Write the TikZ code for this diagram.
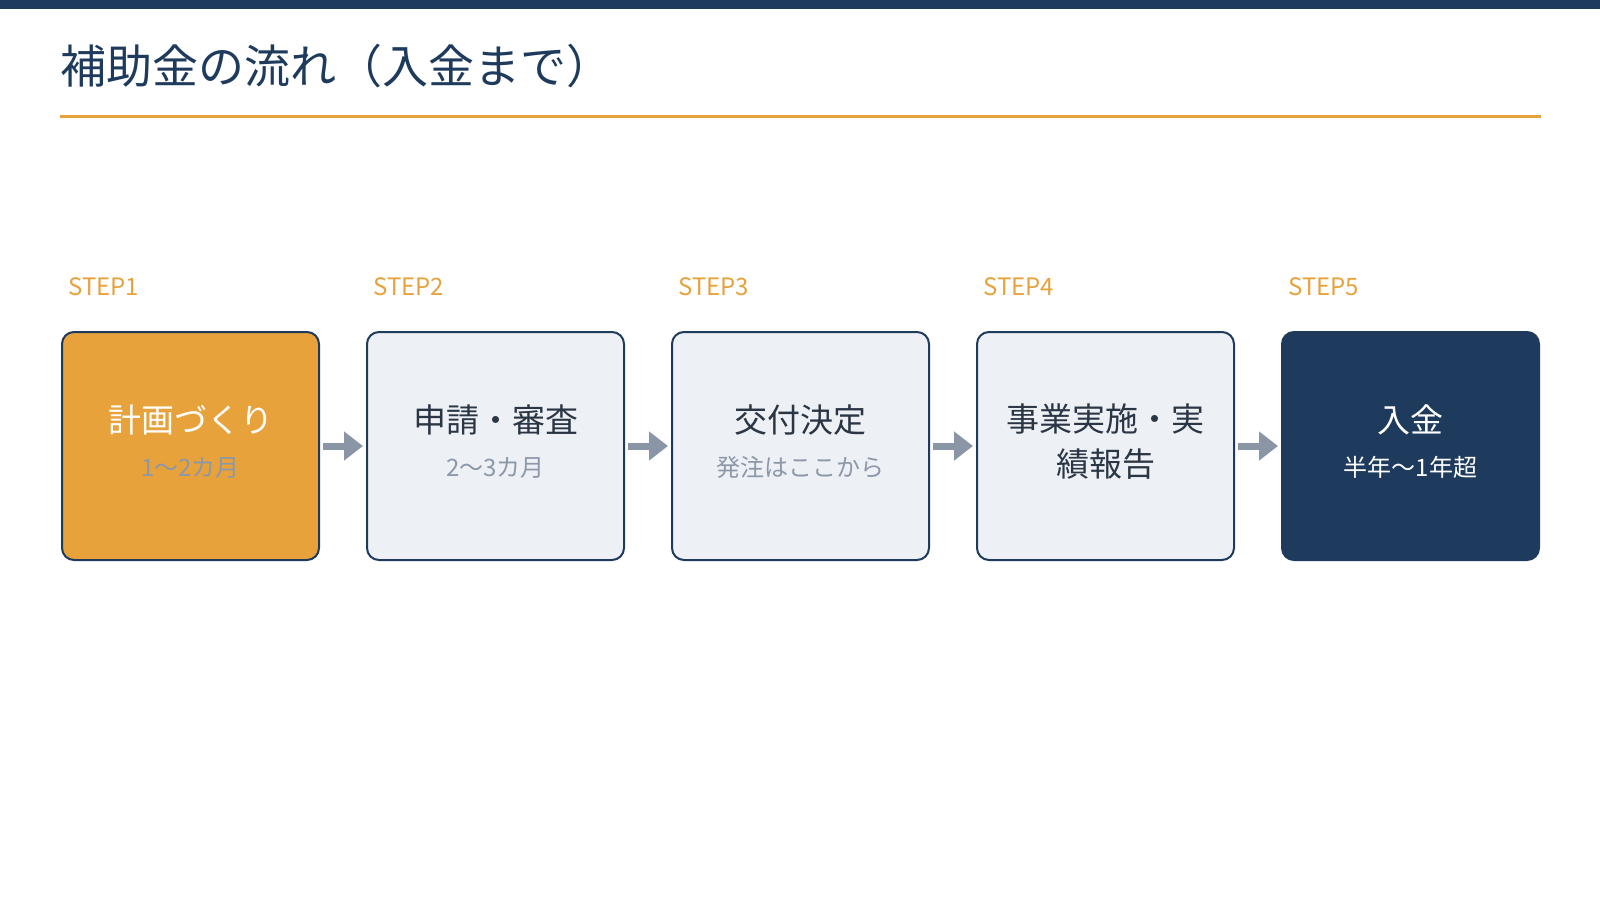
\documentclass[tikz,border=0pt]{standalone}
\usepackage{fontspec}
\setmainfont{Noto Sans CJK JP}
\usetikzlibrary{arrows.meta,calc}
\definecolor{navy}{HTML}{1E3A5C}
\definecolor{accent}{HTML}{E8A23C}
\definecolor{lightfill}{HTML}{EDF1F6}
\definecolor{arrowgray}{HTML}{8A96A6}
\definecolor{maintxt}{HTML}{2B3645}
\definecolor{subtxt}{HTML}{8C98A8}
\tikzset{
  stepbox/.style={draw=navy, line width=2pt, rounded corners=12pt, minimum width=257pt, minimum height=228pt, inner sep=0pt, anchor=north west},
  lightbox/.style={stepbox, fill=lightfill},
  steplabel/.style={anchor=base west, inner sep=0pt, text=accent, font=\fontsize{24}{28}\selectfont},
  maintext/.style={anchor=base, inner sep=0pt, font=\fontsize{33}{40}\selectfont, text=maintxt},
  subtext/.style={anchor=base, inner sep=0pt, font=\fontsize{24}{28}\selectfont, text=subtxt},
  flow/.style={draw=arrowgray, line width=7pt, -{Triangle[length=19pt,width=28pt]}, shorten <=3pt, shorten >=3pt},
}
\begin{document}
\begin{tikzpicture}[x=1pt,y=-1pt]
\useasboundingbox (0,0) rectangle (1600,900);
\fill[white] (0,0) rectangle (1600,900);
% top bar
\fill[navy] (0,0) rectangle (1600,9);
% title
\node[anchor=base west, inner sep=0pt, text=navy, font=\fontsize{46}{54}\selectfont] (title) at (60,83) {補助金の流れ（入金まで）};
\draw[accent, line width=3pt] (60,116.5) -- (1541,116.5);
% step labels
\node[steplabel] (s1) at (68,295) {STEP1};
\node[steplabel] (s2) at (373,295) {STEP2};
\node[steplabel] (s3) at (678,295) {STEP3};
\node[steplabel] (s4) at (983,295) {STEP4};
\node[steplabel] (s5) at (1288,295) {STEP5};
% boxes
\node[stepbox, fill=accent] (b1) at (61,331) {};
\node[lightbox] (b2) at (366,331) {};
\node[lightbox] (b3) at (671,331) {};
\node[lightbox] (b4) at (976,331) {};
\node[stepbox, fill=navy] (b5) at (1281,331) {};
% texts
\node[maintext, text=white] (t1) at ($(b1.center)+(0,-14)$) {計画づくり};
\node[subtext] (u1) at ($(b1.center)+(0,30.5)$) {1〜2カ月};
\node[maintext] (t2) at ($(b2.center)+(0,-14)$) {申請・審査};
\node[subtext] (u2) at ($(b2.center)+(0,30.5)$) {2〜3カ月};
\node[maintext] (t3) at ($(b3.center)+(0,-14)$) {交付決定};
\node[subtext] (u3) at ($(b3.center)+(0,30.5)$) {発注はここから};
\node[maintext] (t4) at ($(b4.center)+(0,-15)$) {事業実施・実};
\node[maintext] (t4b) at ($(b4.center)+(0,30)$) {績報告};
\node[maintext, text=white] (t5) at ($(b5.center)+(0,-14)$) {入金};
\node[subtext, text=white] (u5) at ($(b5.center)+(0,30.5)$) {半年〜1年超};
% arrows
\draw[flow] (b1.east) -- (b2.west);
\draw[flow] (b2.east) -- (b3.west);
\draw[flow] (b3.east) -- (b4.west);
\draw[flow] (b4.east) -- (b5.west);
\end{tikzpicture}
\end{document}
